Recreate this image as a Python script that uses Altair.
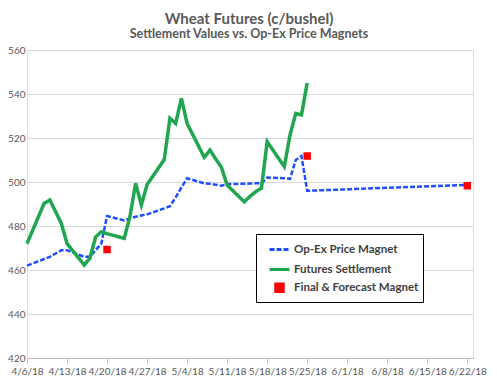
import altair as alt
import pandas as pd

# ---------------- data ----------------
settle_dates = ["2018-04-06", "2018-04-09", "2018-04-10", "2018-04-11", "2018-04-12", "2018-04-13",
                "2018-04-16", "2018-04-17", "2018-04-18", "2018-04-19", "2018-04-20",
                "2018-04-23", "2018-04-24", "2018-04-25", "2018-04-26", "2018-04-27",
                "2018-04-30", "2018-05-01", "2018-05-02", "2018-05-03", "2018-05-04",
                "2018-05-07", "2018-05-08", "2018-05-09", "2018-05-10", "2018-05-11",
                "2018-05-14", "2018-05-15", "2018-05-16", "2018-05-17", "2018-05-18",
                "2018-05-21", "2018-05-22", "2018-05-23", "2018-05-24", "2018-05-25"]
settle_values = [472.0, 490.3, 491.8, 486.5, 481.2, 472.0,
                 462.3, 465.3, 475.0, 477.4, 476.5,
                 474.4, 484.2, 499.4, 489.5, 498.8,
                 510.2, 529.0, 526.6, 538.0, 526.6,
                 511.2, 514.5, 510.5, 506.7, 498.6,
                 491.0, 493.5, 495.6, 497.1, 518.3,
                 507.0, 521.4, 531.2, 530.5, 545.0]

magnet_dates = ["2018-04-06", "2018-04-09", "2018-04-10", "2018-04-11", "2018-04-12", "2018-04-13",
                "2018-04-16", "2018-04-17", "2018-04-18", "2018-04-19", "2018-04-20",
                "2018-04-23", "2018-04-24", "2018-04-25", "2018-04-26", "2018-04-27",
                "2018-04-30", "2018-05-01", "2018-05-02", "2018-05-03", "2018-05-04",
                "2018-05-07", "2018-05-08", "2018-05-09", "2018-05-10", "2018-05-11",
                "2018-05-14", "2018-05-15", "2018-05-16", "2018-05-17", "2018-05-18",
                "2018-05-21", "2018-05-22", "2018-05-23", "2018-05-24", "2018-05-25",
                "2018-06-22"]
magnet_values = [462.0, 465.0, 466.0, 467.5, 469.0, 469.0,
                 466.0, 466.0, 469.0, 472.0, 484.5,
                 482.5, 483.5, 484.2, 484.8, 485.3,
                 488.0, 489.0, 493.0, 497.5, 501.7,
                 499.4, 499.2, 498.8, 498.3, 499.0,
                 499.2, 499.3, 499.4, 499.4, 502.0,
                 501.7, 501.4, 510.0, 511.8, 496.0,
                 498.7]

final_dates = ["2018-04-20", "2018-05-25", "2018-06-22"]
final_values = [469.3, 511.8, 498.3]

series_names = ["Op-Ex Price Magnet", "Futures Settlement", "Final & Forecast Magnet"]
series_colors = ["#1f4fff", "#1fa64f", "#ff0000"]
series_dashes = [[5, 2], [1, 0], [1, 0]]
series_shapes = ["stroke", "stroke", "square"]
series_sizes = [400, 400, 56]

x_tick_dates = ["2018-04-06", "2018-04-13", "2018-04-20", "2018-04-27", "2018-05-04", "2018-05-11",
                "2018-05-18", "2018-05-25", "2018-06-01", "2018-06-08", "2018-06-15", "2018-06-22"]
x_domain_dates = ["2018-04-06", "2018-06-23"]
y_ticks = [420, 440, 460, 480, 500, 520, 540, 560]

title_text = "Wheat Futures (c/bushel)"
subtitle_text = "Settlement Values vs. Op-Ex Price Magnets"

# ---------------- tables ----------------
magnet_df = pd.DataFrame({"date": magnet_dates, "value": magnet_values, "series": series_names[0]})
settle_df = pd.DataFrame({"date": settle_dates, "value": settle_values, "series": series_names[1]})
final_df = pd.DataFrame({"date": final_dates, "value": final_values, "series": series_names[2]})


def dt(s):
    y, m, d = (int(p) for p in s.split("-"))
    return alt.DateTime(year=y, month=m, date=d, utc=True)


FONT = "Lato"
TXT = "#595959"

x_enc = alt.X(
    "date:T",
    title=None,
    scale=alt.Scale(type="utc", domain=[dt(s) for s in x_domain_dates], nice=False),
    axis=alt.Axis(
        values=[dt(s) for s in x_tick_dates],
        labelExpr="utcFormat(datum.value, '%-m/%-d/%y')",
        grid=False,
        domainColor="#bfbfbf",
        tickColor="#bfbfbf",
        tickSize=5,
        labelPadding=3,
        labelFont=FONT,
        labelFontSize=10,
        labelColor=TXT,
        labelOverlap=False,
        labelFlush=False,
    ),
)
y_enc = alt.Y(
    "value:Q",
    title=None,
    scale=alt.Scale(domain=[420, 560], nice=False, zero=False),
    axis=alt.Axis(
        values=y_ticks,
        grid=True,
        gridColor="#d9d9d9",
        gridWidth=1,
        domain=False,
        ticks=False,
        labelPadding=2,
        labelFont=FONT,
        labelFontSize=10,
        labelColor=TXT,
    ),
)

legend = alt.Legend(
    title=None,
    orient="none",
    direction="vertical",
    legendX=229,
    legendY=184,
    symbolSize=400,
    symbolStrokeWidth=3,
    symbolOffset=8,
    labelOffset=3,
    labelFont=FONT,
    labelFontSize=11.5,
    labelFontWeight="bold",
    labelColor="#404040",
    strokeColor="#000000",
    fillColor="#ffffff",
    padding=4,
    rowPadding=2,
)

color_enc = alt.Color("series:N", scale=alt.Scale(domain=series_names, range=series_colors),
                      legend=legend)
dash_enc = alt.StrokeDash("series:N", scale=alt.Scale(domain=series_names, range=series_dashes),
                          legend=legend)
shape_enc = alt.Shape("series:N", scale=alt.Scale(domain=series_names, range=series_shapes),
                      legend=legend)
size_enc = alt.Size("series:N",
                    scale=alt.Scale(type="ordinal", domain=series_names, range=series_sizes),
                    legend=legend)

blue = alt.Chart(magnet_df).mark_line(strokeWidth=2.5).encode(
    x=x_enc, y=y_enc, color=color_enc, strokeDash=dash_enc
)
green = alt.Chart(settle_df).mark_line(strokeWidth=3.5).encode(
    x=x_enc, y=y_enc, color=color_enc, strokeDash=dash_enc
)
red = alt.Chart(final_df).mark_point(filled=True, opacity=1).encode(
    x=x_enc, y=y_enc, color=color_enc, shape=shape_enc, size=size_enc
)

chart = alt.layer(blue, green, red).properties(
    width=446,
    height=308,
    autosize=alt.AutoSizeParams(type="none"),
    padding={"left": 19, "top": 42, "right": 16, "bottom": 22},
    title=alt.TitleParams(
        text=title_text,
        subtitle=subtitle_text,
        font=FONT,
        subtitleFont=FONT,
        fontSize=15,
        subtitleFontSize=12.5,
        fontWeight="bold",
        subtitleFontWeight="bold",
        color=TXT,
        subtitleColor=TXT,
        anchor="middle",
        offset=5,
        subtitlePadding=1,
        dx=-1,
    ),
).configure_view(stroke=None).configure(background="white")

chart.save("out.html", embed_options={"renderer": "svg", "actions": False})
